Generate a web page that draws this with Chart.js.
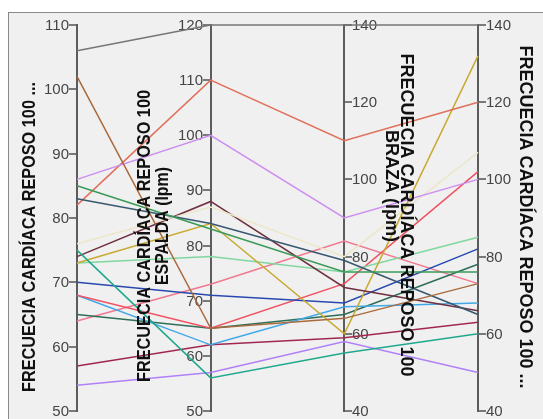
<!DOCTYPE html>
<html>
<head>
<meta charset="utf-8">
<script src="https://cdn.jsdelivr.net/npm/chart.js@4/dist/chart.umd.min.js"></script>
<style>
  html, body { margin: 0; padding: 0; background: #ffffff; }
  #wrap { width: 543px; height: 419px; }
</style>
</head>
<body>
<div id="wrap"><canvas id="pc" width="543" height="419"></canvas></div>
<script>
// Variables shown as parallel axes (one title per axis, split into lines)
const AXIS_TITLES = [
  ['FRECUECIA CARDÍACA REPOSO 100 ...'],
  ['FRECUECIA CARDÍACA REPOSO 100', 'ESPALDA (lpm)'],
  ['FRECUECIA CARDÍACA REPOSO 100', 'BRAZA (lpm)'],
  ['FRECUECIA CARDÍACA REPOSO 100 ...']
];

// Tick labels of each axis (first and last give the axis range)
const TICKS_1 = [50, 60, 70, 80, 90, 100, 110];
const TICKS_2 = [50, 60, 70, 80, 90, 100, 110, 120];
const TICKS_3 = [40, 60, 80, 100, 120, 140];
const TICKS_4 = [40, 60, 80, 100, 120, 140];

// Resting heart rate after 100 m, one entry per swimmer, per axis (lpm)
const FC_1 = [106, 102, 86, 85, 83, 82, 76, 75, 74, 73, 73, 70, 68, 68, 65, 64, 57, 54];
const FC_2 = [120, 65, 100, 83, 84, 110, 87, 56, 88, 84, 78, 71, 65, 62, 65, 73, 62, 57];
const FC_3 = [140, 64, 90, 76, 79, 110, 80, 55, 72, 60, 76, 68, 73, 67, 65, 84, 59, 58];
const FC_4 = [140, 73, 100, 76, 65, 120, 107, 60, 66, 132, 85, 82, 102, 68, 78, 73, 63, 50];

// Line colour for each swimmer
const LINE_COLORS = [
  '#767676', '#a86a3c', '#cc8ef0', '#3a9a58', '#385870', '#e0705a',
  '#ece7c8', '#20a88c', '#703040', '#c8aa30', '#80d8a0', '#2848b0',
  '#f05262', '#40a8e8', '#2e6e58', '#f07890', '#a02850', '#b080f8'
];

const TICKS = [TICKS_1, TICKS_2, TICKS_3, TICKS_4];
const VALUES = [FC_1, FC_2, FC_3, FC_4];

// Placement of the axis titles: offset from the axis line, centre height, run length
const AXIS_STYLE = [
  { side: 'left',  rot: -Math.PI / 2, titles: [{ dx: -47, cy: 237, len: 310 }] },
  { side: 'left',  rot: -Math.PI / 2, titles: [{ dx: -66, cy: 236, len: 292 }, { dx: -48, cy: 226, len: 118 }] },
  { side: 'right', rot: Math.PI / 2,  titles: [{ dx: 62, cy: 215, len: 0 }, { dx: 47, cy: 186, len: 0 }] },
  { side: 'right', rot: Math.PI / 2,  titles: [{ dx: 47, cy: 217, len: 0 }] }
];

const range = k => [TICKS[k][0], TICKS[k][TICKS[k].length - 1]];
const norm = (k, v) => {
  const [lo, hi] = range(k);
  return (v - lo) / (hi - lo);
};

const datasets = FC_1.map((_, i) => ({
  data: VALUES.map((vals, k) => ({ x: k, y: norm(k, vals[i]) })),
  borderColor: LINE_COLORS[i],
  borderWidth: 1.5,
  pointRadius: 0,
  fill: false,
  tension: 0,
  clip: false,
  xAxisID: 'x',
  yAxisID: 'yn'
}));

const scales = {
  x: { type: 'linear', min: 0, max: 3, display: false },
  yn: { type: 'linear', min: 0, max: 1, display: false }
};
TICKS.forEach((t, k) => {
  const [lo, hi] = range(k);
  scales['y' + (k + 1)] = {
    type: 'linear', min: lo, max: hi, display: false,
    ticks: { stepSize: t[1] - t[0] }
  };
});

const parallelAxes = {
  id: 'parallelAxes',
  beforeDraw(chart) {
    const ctx = chart.ctx;
    ctx.save();
    ctx.fillStyle = '#ffffff';
    ctx.fillRect(0, 0, chart.width, chart.height);
    ctx.fillStyle = '#f0f0f0';
    ctx.fillRect(8, 12, chart.width, chart.height);
    ctx.strokeStyle = '#8a8a8a';
    ctx.lineWidth = 1;
    ctx.strokeRect(8.5, 12.5, chart.width, chart.height);
    ctx.restore();
  },
  beforeDatasetsDraw(chart) {
    const ctx = chart.ctx;
    ctx.save();
    TICKS.forEach((ticks, k) => {
      const sc = chart.scales['y' + (k + 1)];
      const px = Math.round(chart.scales.x.getPixelForValue(k));
      const [lo, hi] = range(k);
      const st = AXIS_STYLE[k];
      ctx.strokeStyle = '#5c5c5c';
      ctx.lineWidth = 2;
      ctx.beginPath();
      ctx.moveTo(px, sc.getPixelForValue(lo) + 1);
      ctx.lineTo(px, sc.getPixelForValue(hi) - 1);
      ctx.stroke();
      ctx.font = '15px "Liberation Sans", Arial, sans-serif';
      ctx.fillStyle = '#454545';
      ctx.textBaseline = 'middle';
      ticks.forEach(v => {
        const py = Math.round(sc.getPixelForValue(v));
        const dir = st.side === 'left' ? -1 : 1;
        ctx.lineWidth = 1.6;
        ctx.beginPath();
        ctx.moveTo(px, py);
        ctx.lineTo(px + dir * 8, py);
        ctx.stroke();
        ctx.textAlign = st.side === 'left' ? 'right' : 'left';
        ctx.fillText(String(v), px + dir * 8, py + 1);
      });
    });
    ctx.restore();
  },
  afterDatasetsDraw(chart) {
    const ctx = chart.ctx;
    ctx.save();
    ctx.font = 'bold 18px "Liberation Sans", Arial, sans-serif';
    ctx.fillStyle = '#111111';
    ctx.textAlign = 'center';
    ctx.textBaseline = 'middle';
    AXIS_TITLES.forEach((lines, k) => {
      const px = chart.scales.x.getPixelForValue(k);
      const st = AXIS_STYLE[k];
      lines.forEach((txt, j) => {
        const t = st.titles[j];
        const w = ctx.measureText(txt).width;
        const sx = t.len ? t.len / w : 1;
        ctx.save();
        ctx.translate(px + t.dx, t.cy);
        ctx.rotate(st.rot);
        ctx.scale(sx, 1);
        ctx.fillText(txt, 0, 0);
        ctx.restore();
      });
    });
    ctx.restore();
  }
};

new Chart(document.getElementById('pc'), {
  type: 'line',
  data: { datasets },
  options: {
    responsive: false,
    animation: false,
    events: [],
    layout: { padding: { left: 77, right: 65, top: 25, bottom: 8 } },
    scales,
    plugins: { legend: { display: false }, tooltip: { enabled: false } }
  },
  plugins: [parallelAxes]
});
</script>
</body>
</html>
